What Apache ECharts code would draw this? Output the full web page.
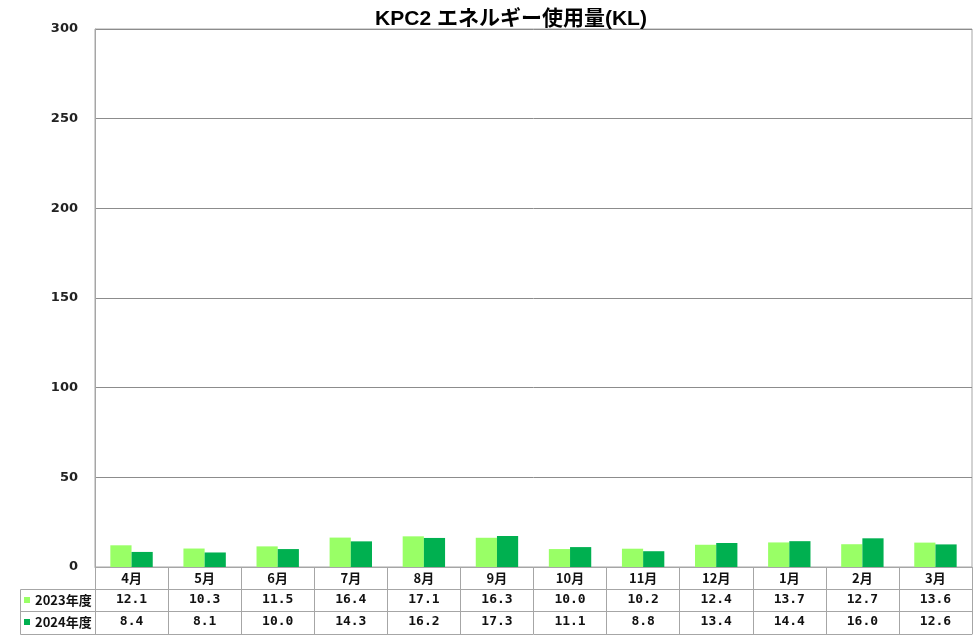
<!DOCTYPE html>
<html><head><meta charset="utf-8">
<script src="https://cdn.jsdelivr.net/npm/echarts@6/dist/echarts.min.js"></script>
<style>html,body{margin:0;padding:0;background:#fff}#c{width:977px;height:638px}</style>
</head><body><div id="c"></div>
<script>
const months = ['4月','5月','6月','7月','8月','9月','10月','11月','12月','1月','2月','3月'];
const seriesNames = ['2023年度','2024年度'];
const fy2023 = [12.1,10.3,11.5,16.4,17.1,16.3,10.0,10.2,12.4,13.7,12.7,13.6];
const fy2024 = [8.4,8.1,10.0,14.3,16.2,17.3,11.1,8.8,13.4,14.4,16.0,12.6];
const yMin = 0, yMax = 300, yStep = 50;
const colors = ['#99FF66','#00B050'];
const font = '"Noto Sans CJK JP","Noto Sans",sans-serif';
const numFont = '"DejaVu Sans Mono","Noto Sans CJK JP",monospace';
const border = '#a6a6a6';

const chart = echarts.init(document.getElementById('c'));
function tableAxis(offset, fmt, tickLen){
  return {
    type:'category', data: months, gridIndex:0, position:'bottom', offset: offset,
    axisLine:{show:true, lineStyle:{color:border, width:1}},
    axisTick:{show: tickLen>0, length: tickLen, interval:0, alignWithLabel:false, lineStyle:{color:border}},
    axisLabel:{show: !!fmt, interval:0, formatter: fmt || undefined, margin: 11, verticalAlign:'middle',
      fontFamily: offset===0 ? font : numFont, fontSize: 13, color:'#111', fontWeight:'bold'},
    splitLine:{show:false}
  };
}
function legendRow(name, top){
  return {orient:'vertical', left:24, top:top, padding:0, itemWidth:6, itemHeight:6, itemGap:0, icon:'rect',
    data:[name], itemStyle:{borderWidth:0},
    textStyle:{fontFamily:font, fontSize:13, fontWeight:'bold', color:'#111', lineHeight:22, padding:[0,0,0,0]}};
}
chart.setOption({
  animation:false,
  title:{text:'KPC2 エネルギー使用量(KL)', left:506, top:4, textAlign:'center',
    textStyle:{fontFamily:'"Liberation Sans","Noto Sans CJK JP",sans-serif', fontSize:21, fontWeight:'bold', color:'#000'}},
  grid:{left:95, right:5, top:29, bottom:71, show:true, borderColor:border, borderWidth:1},
  legend:[legendRow(seriesNames[0], 589), legendRow(seriesNames[1], 611)],
  xAxis:[
    tableAxis(0, (v)=>v, 22),
    tableAxis(22, (v,i)=>fy2023[i].toFixed(1), 22),
    tableAxis(44, (v,i)=>fy2024[i].toFixed(1), 23),
    tableAxis(67, null, 0)
  ],
  yAxis:{type:'value', min:yMin, max:yMax, interval:yStep,
    axisLine:{show:true, lineStyle:{color:border}}, axisTick:{show:false},
    axisLabel:{margin:17, fontFamily:'"DejaVu Sans",sans-serif', fontSize:13, fontWeight:'bold', color:'#222'},
    splitLine:{lineStyle:{color:'#8c8c8c', width:1}}},
  series:[
    {name:seriesNames[0], type:'bar', data:fy2023, itemStyle:{color:colors[0]}, barGap:'0%', barCategoryGap:'42%'},
    {name:seriesNames[1], type:'bar', data:fy2024, itemStyle:{color:colors[1]}, barGap:'0%', barCategoryGap:'42%'}
  ],
  graphic:[
    {type:'line', shape:{x1:20.5,y1:589.5,x2:95,y2:589.5}, style:{stroke:border,lineWidth:1}},
    {type:'line', shape:{x1:20.5,y1:611.5,x2:95,y2:611.5}, style:{stroke:border,lineWidth:1}},
    {type:'line', shape:{x1:20.5,y1:634.5,x2:95,y2:634.5}, style:{stroke:border,lineWidth:1}},
    {type:'line', shape:{x1:20.5,y1:589.5,x2:20.5,y2:634.5}, style:{stroke:border,lineWidth:1}}
  ]
});
</script></body></html>
